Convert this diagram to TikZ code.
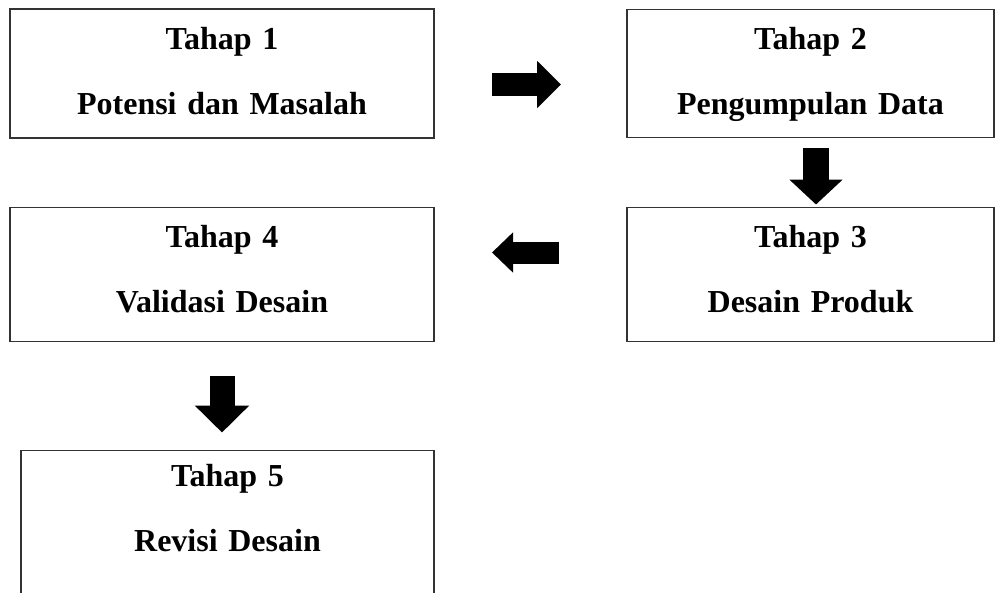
\documentclass[tikz,border=0pt]{standalone}
\usepackage{fontspec}
\setmainfont{Liberation Serif}[WordSpace=0.6]
\usetikzlibrary{arrows.meta,positioning}
\definecolor{edge}{HTML}{333333}
\tikzset{stage/.style={draw=edge,line width=1.3pt,inner sep=0pt,outer sep=0pt,align=center,font=\fontsize{32pt}{65pt}\selectfont\bfseries,text height=40pt},flow/.style n args={3}{line width=#1,draw=black,-{Triangle[length=#2,width=#3]}}}

\begin{document}
\begin{tikzpicture}[x=1pt,y=-1pt]
\useasboundingbox (0,0) rectangle (999,592);
\node[stage,text width=424pt,text depth=89pt,anchor=north west] (s1) at (10,9) {Tahap 1\\Potensi dan Masalah};
\node[stage,text width=367pt,text depth=88pt,right=193pt of s1] (s2) {Tahap 2\\Pengumpulan Data};
\node[stage,text width=367pt,text depth=94pt,below=70pt of s2] (s3) {Tahap 3\\Desain Produk};
\node[stage,text width=424pt,text depth=94pt,left=193pt of s3] (s4) {Tahap 4\\Validasi Desain};
\node[stage,text width=413pt,text height=36pt,text depth=200pt,anchor=north east] (s5) at ([yshift=-109pt]s4.south east) {Tahap 5\\Revisi Desain};
\draw[flow={23pt}{24pt}{46pt},shorten <=58pt,shorten >=66pt] ([yshift=-11pt]s1.east) -- ([yshift=-11pt]s2.west);
\draw[flow={26pt}{25pt}{52pt},shorten <=10pt,shorten >=3pt] ([xshift=5.5pt]s2.south) -- ([xshift=5.5pt]s3.north);
\draw[flow={22pt}{21pt}{39pt},line join=round,shorten <=68pt,shorten >=58pt] ([yshift=22pt]s3.west) -- ([yshift=22pt]s4.east);
\draw[flow={25pt}{27pt}{53pt},shorten <=34pt,shorten >=18pt] (s4.south) -- (s4.south |- s5.north);
\end{tikzpicture}
\end{document}
